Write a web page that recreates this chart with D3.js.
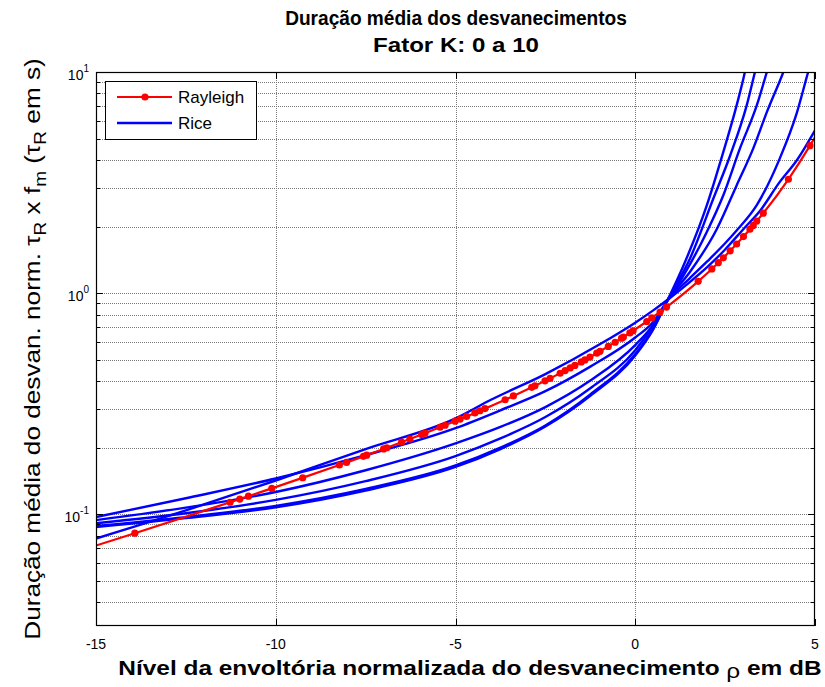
<!DOCTYPE html>
<html>
<head>
<meta charset="utf-8">
<script src="https://cdn.jsdelivr.net/npm/d3@7"></script>
<style>
  html, body { margin: 0; padding: 0; background: #fff; }
  svg { display: block; font-family: "Liberation Sans", Arial, sans-serif; }
</style>
</head>
<body>
<svg id="chart" width="825" height="687"></svg>
<script>
// Fade level in dB and normalised average fade duration (tau_R * f_m)
const rayleighLevels = [-15, -13.92, -11.27, -11.0, -10.76, -10.11, -9.25, -8.23, -8.03, -7.56, -7.47,
  -7.0, -6.91, -6.5, -6.27, -5.94, -5.85, -5.43, -5.29, -5.01, -4.87, -4.69, -4.46, -4.32, -4.18,
  -3.62, -3.39, -2.88, -2.79, -2.51, -2.37, -2.09, -1.95, -1.81, -1.68, -1.5, -1.4, -1.26, -1.07,
  -0.98, -0.75, -0.56, -0.38, -0.33, -0.15, -0.06, 0.32, 0.46, 0.69, 0.87, 1.75, 2.13, 2.31, 2.45,
  2.64, 2.82, 3.01, 3.19, 3.28, 3.38, 3.56, 4.26, 4.86, 5];
const rayleighDuration = [0.0721, 0.082, 0.1132, 0.117, 0.1206, 0.1308, 0.1461, 0.1669, 0.1714, 0.1826, 0.1849,
  0.1972, 0.1997, 0.2116, 0.2186, 0.2293, 0.2324, 0.2472, 0.2525, 0.2634, 0.2692, 0.2768, 0.2871, 0.2936, 0.3002,
  0.3293, 0.3425, 0.3746, 0.3807, 0.4008, 0.4114, 0.434, 0.4461, 0.4586, 0.4708, 0.4883, 0.4985, 0.5135, 0.5346,
  0.5453, 0.5739, 0.5993, 0.6251, 0.6325, 0.6606, 0.6754, 0.7438, 0.7717, 0.8213, 0.864, 1.13, 1.286, 1.372, 1.444,
  1.553, 1.667, 1.802, 1.945, 2.024, 2.116, 2.298, 3.272, 4.644, 5.07];

// Rice curves, K = 0, 2, 4, 6, 8, 10: [level dB, duration]
const riceK0 = [[-15, 0.0776], [-12.5, 0.104], [-10, 0.142], [-7.5, 0.197], [-5, 0.271], [-4, 0.33],
  [-2.5, 0.43], [-1, 0.585], [0, 0.735], [0.5, 0.835], [1, 0.96], [1.5, 1.115], [2, 1.31], [2.5, 1.575],
  [3, 1.94], [3.5, 2.39], [4, 3.15], [4.5, 4.0], [5, 5.45]];
const riceK2 = [[-15, 0.097], [-12.5, 0.118], [-10, 0.145], [-7.5, 0.185], [-5, 0.245], [-3.75, 0.295],
  [-2.5, 0.36], [-1.25, 0.465], [0, 0.63], [0.5, 0.74], [0.9, 0.925], [1.5, 1.16], [2, 1.39], [2.5, 1.68],
  [2.82, 1.92], [3.38, 2.5], [4.03, 4.1], [4.49, 6.5], [4.81, 10], [4.95, 12]];
const riceK4 = [[-15, 0.094], [-12.5, 0.107], [-10, 0.126], [-7.5, 0.158], [-5, 0.209], [-3.75, 0.248],
  [-2.5, 0.305], [-1.25, 0.402], [0, 0.582], [0.5, 0.72], [0.9, 0.93], [1.52, 1.245], [2.27, 1.95],
  [2.82, 3.07], [3.28, 4.5], [3.66, 6.58], [4.12, 10], [4.3, 12]];
const riceK6 = [[-15, 0.091], [-12.5, 0.101], [-10, 0.116], [-7.5, 0.141], [-5, 0.183], [-3.75, 0.22],
  [-2.5, 0.275], [-1.25, 0.371], [0, 0.552], [0.5, 0.715], [0.9, 0.93], [1.34, 1.2], [1.99, 1.89],
  [2.45, 2.77], [2.91, 4.5], [3.38, 7.06], [3.66, 10], [3.8, 12]];
const riceK8 = [[-15, 0.0885], [-12.5, 0.097], [-10, 0.109], [-7.5, 0.13], [-5, 0.166], [-3.75, 0.2],
  [-2.5, 0.252], [-1.25, 0.348], [0, 0.53], [0.5, 0.69], [0.9, 0.93], [1.52, 1.43], [2.17, 2.67],
  [2.64, 4.19], [3.1, 7.06], [3.33, 10], [3.45, 12]];
const riceK10 = [[-15, 0.0875], [-12.5, 0.096], [-10, 0.1075], [-7.5, 0.128], [-5, 0.1635], [-3.75, 0.197],
  [-2.5, 0.249], [-1.25, 0.343], [0, 0.522], [0.5, 0.685], [0.9, 0.93], [1.34, 1.33], [1.99, 2.49],
  [2.45, 4.35], [2.82, 7.06], [3.05, 10], [3.15, 12]];

const xTicks = [-15, -10, -5, 0, 5];
const yDecades = [-1, 0, 1];

const svg = d3.select("#chart");
const margin = { left: 96, right: 815, top: 72, bottom: 626 };

const x = d3.scaleLinear().domain([-15, 5]).range([margin.left, margin.right]);
const y = d3.scaleLog().domain([0.0312, 10]).range([margin.bottom, margin.top]);

// horizontal scale factor that brings a text element to a given length
function fitWidth(sel, width) {
  const w = sel.node().getComputedTextLength();
  return width / w;
}

// minor log grid values (2..9 in each decade) inside the domain
const minorVals = [];
[-2, -1, 0].forEach(e => {
  for (let m = 2; m <= 9; m++) {
    const v = m * Math.pow(10, e);
    if (v > y.domain()[0] && v < y.domain()[1]) minorVals.push(v);
  }
});
const majorVals = yDecades.map(e => Math.pow(10, e));

// grid
const grid = svg.append("g").attr("stroke", "#7a7a7a").attr("stroke-width", 1)
  .attr("stroke-dasharray", "1,1").attr("shape-rendering", "crispEdges");
grid.selectAll("line.gy").data(minorVals.concat(majorVals.filter(v => v < 10))).join("line")
  .attr("x1", margin.left).attr("x2", margin.right)
  .attr("y1", d => Math.round(y(d)) + 0.5).attr("y2", d => Math.round(y(d)) + 0.5);
grid.selectAll("line.gx").data(xTicks.filter(t => t > -15 && t < 5)).join("line")
  .attr("class", "gx")
  .attr("y1", margin.top).attr("y2", margin.bottom)
  .attr("x1", d => Math.round(x(d)) + 0.5).attr("x2", d => Math.round(x(d)) + 0.5);

// clip for data
svg.append("clipPath").attr("id", "plotclip").append("rect")
  .attr("x", margin.left).attr("y", margin.top)
  .attr("width", margin.right - margin.left).attr("height", margin.bottom - margin.top);

const plot = svg.append("g").attr("clip-path", "url(#plotclip)");
const line = d3.line().x(d => x(d[0])).y(d => y(d[1])).curve(d3.curveMonotoneX);

const riceCurves = [riceK0, riceK2, riceK4, riceK6, riceK8, riceK10];
plot.selectAll("path.rice").data(riceCurves).join("path")
  .attr("class", "rice")
  .attr("d", line)
  .attr("fill", "none").attr("stroke", "#0000ff").attr("stroke-width", 2.4)
  .attr("stroke-linejoin", "round");

const rayleighPts = rayleighLevels.map((v, i) => [v, rayleighDuration[i]]);
plot.append("path").datum(rayleighPts)
  .attr("d", line)
  .attr("fill", "none").attr("stroke", "#ff0000").attr("stroke-width", 2.2);
plot.selectAll("circle.dot").data(rayleighPts.slice(1, -1)).join("circle")
  .attr("class", "dot")
  .attr("cx", d => x(d[0])).attr("cy", d => y(d[1])).attr("r", 3.6)
  .attr("fill", "#ff0000");

// axes box
svg.append("rect").attr("x", margin.left + 0.5).attr("y", margin.top + 0.5)
  .attr("width", margin.right - margin.left - 1).attr("height", margin.bottom - margin.top - 1)
  .attr("fill", "none").attr("stroke", "#000").attr("stroke-width", 1.2);

// ticks
const tk = svg.append("g").attr("stroke", "#000").attr("stroke-width", 1).attr("shape-rendering", "crispEdges");
xTicks.forEach(t => {
  const px = Math.round(x(t)) + 0.5;
  tk.append("line").attr("x1", px).attr("x2", px).attr("y1", margin.bottom).attr("y2", margin.bottom - 7);
  tk.append("line").attr("x1", px).attr("x2", px).attr("y1", margin.top).attr("y2", margin.top + 7);
});
majorVals.forEach(v => {
  const py = Math.round(y(v)) + 0.5;
  tk.append("line").attr("x1", margin.left).attr("x2", margin.left + 7).attr("y1", py).attr("y2", py);
  tk.append("line").attr("x1", margin.right).attr("x2", margin.right - 7).attr("y1", py).attr("y2", py);
});
minorVals.forEach(v => {
  const py = Math.round(y(v)) + 0.5;
  tk.append("line").attr("x1", margin.left).attr("x2", margin.left + 4).attr("y1", py).attr("y2", py);
  tk.append("line").attr("x1", margin.right).attr("x2", margin.right - 4).attr("y1", py).attr("y2", py);
});

// tick labels
svg.append("g").selectAll("text").data(xTicks).join("text")
  .attr("x", d => x(d)).attr("y", 649)
  .attr("text-anchor", "middle").attr("font-size", 14).text(d => d);

const yl = svg.append("g").selectAll("text").data(yDecades).join("text")
  .attr("y", d => y(Math.pow(10, d)) + 8)
  .attr("font-size", 14);
yl.append("tspan").text("10");
yl.append("tspan").attr("dy", -8).attr("font-size", 10).text(d => d);
yl.each(function () {
  const w = this.getComputedTextLength();
  d3.select(this).attr("x", 89 - w);
});

// titles
const t1 = svg.append("text").attr("text-anchor", "middle")
  .attr("font-size", 21).attr("font-weight", "bold").text("Duração média dos desvanecimentos");
t1.attr("transform", `translate(456,25) scale(${fitWidth(t1, 342)},1)`);
const t2 = svg.append("text").attr("text-anchor", "middle")
  .attr("font-size", 21).attr("font-weight", "bold").text("Fator K: 0 a 10");
t2.attr("transform", `translate(456,52) scale(${fitWidth(t2, 166)},1)`);

const xl = svg.append("text").attr("text-anchor", "middle")
  .attr("font-size", 21).attr("font-weight", "bold");
xl.append("tspan").text("Nível da envoltória normalizada do desvanecimento ");
xl.append("tspan").attr("font-weight", "normal").attr("dy", 3).text("ρ");
xl.append("tspan").attr("dy", -3).text(" em dB");
xl.attr("transform", `translate(470,675) scale(${fitWidth(xl, 704)},1)`);

const ylab = svg.append("text").attr("text-anchor", "middle").attr("font-size", 22);
ylab.append("tspan").text("Duração média do desvan. norm. τ");
ylab.append("tspan").attr("font-size", 16).attr("dy", 6).text("R");
ylab.append("tspan").attr("dy", -6).text(" x f");
ylab.append("tspan").attr("font-size", 16).attr("dy", 6).text("m");
ylab.append("tspan").attr("dy", -6).text(" (τ");
ylab.append("tspan").attr("font-size", 16).attr("dy", 6).text("R");
ylab.append("tspan").attr("dy", -6).text(" em s)");
ylab.attr("transform", `translate(40,349) rotate(-90) scale(${fitWidth(ylab, 582)},1)`);

// legend
const lg = svg.append("g");
lg.append("rect").attr("x", 105.5).attr("y", 81.5).attr("width", 151).attr("height", 58)
  .attr("fill", "#fff").attr("stroke", "#000").attr("stroke-width", 1);
lg.append("line").attr("x1", 117).attr("x2", 172).attr("y1", 97).attr("y2", 97)
  .attr("stroke", "#ff0000").attr("stroke-width", 2.2);
lg.append("circle").attr("cx", 145).attr("cy", 97).attr("r", 3.6).attr("fill", "#ff0000");
lg.append("line").attr("x1", 117).attr("x2", 172).attr("y1", 123).attr("y2", 123)
  .attr("stroke", "#0000ff").attr("stroke-width", 2.4);
lg.append("text").attr("x", 178).attr("y", 103).attr("font-size", 17).text("Rayleigh");
lg.append("text").attr("x", 178).attr("y", 129).attr("font-size", 17).text("Rice");
</script>
</body>
</html>
